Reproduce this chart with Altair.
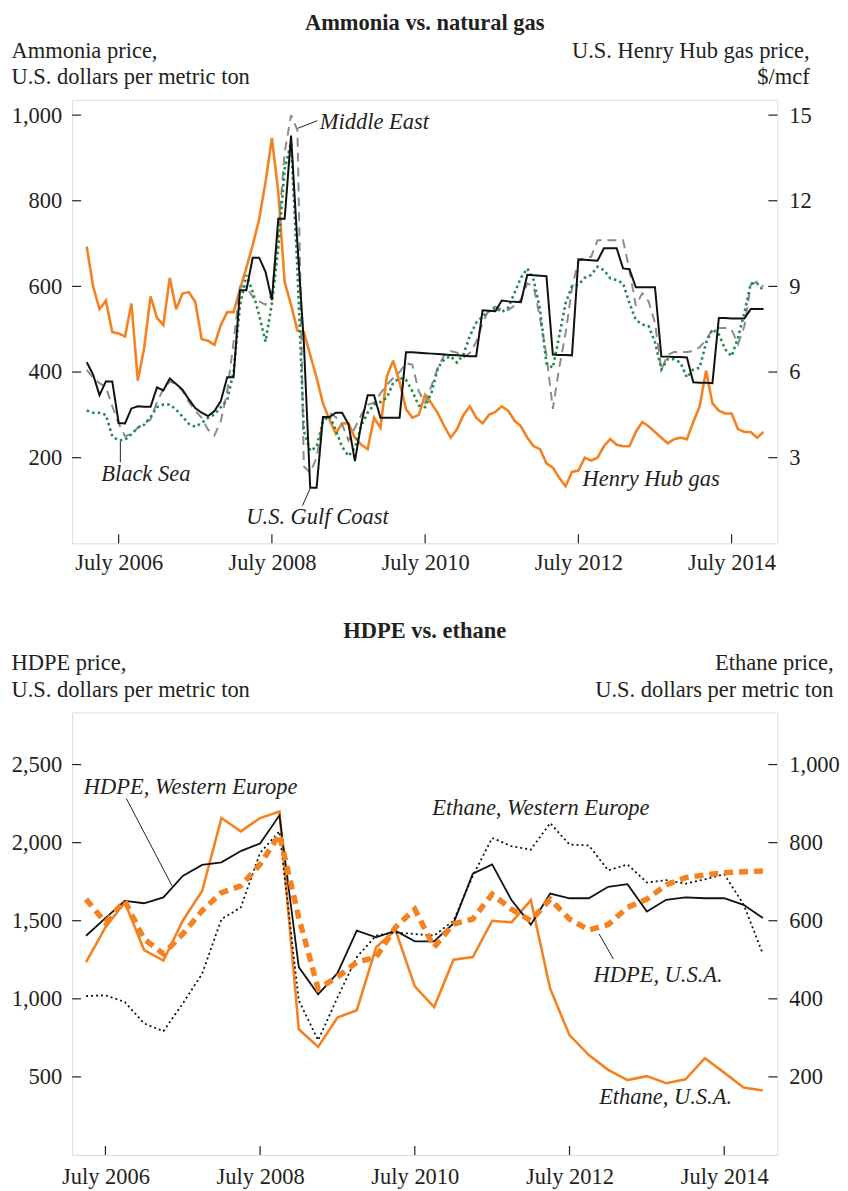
import altair as alt
import pandas as pd

FONT = "Liberation Serif"
INK = "#231f20"
ORANGE = "#f58220"
GREEN = "#1f8b4c"
GREY = "#8c8c8c"
FS = 22.6
W = 709
TICK = 9

# ---------------- top panel: monthly, Feb 2006 .. Dec 2014 ----------------
top_years = [2006] * 11 + [y for y in range(2007, 2015) for _ in range(12)]
top_months = list(range(2, 13)) + list(range(1, 13)) * 8

# U.S. Henry Hub gas price, $/mcf
henry_hub = [
    10.4, 9.0, 8.2, 8.5, 7.4, 7.35, 7.25, 8.4, 5.7, 6.85, 8.65,
    7.9, 7.65, 9.3, 8.2, 8.75, 8.8, 8.45, 7.15, 7.1, 6.95, 7.65, 8.1,
    8.1, 8.9, 9.65, 10.45, 11.35, 12.65, 14.2, 12.3, 9.15, 8.35, 7.45, 7.4,
    6.6, 5.8, 4.9, 4.35, 3.85, 4.2, 4.2, 3.7, 3.45, 3.3, 4.4, 4.05,
    5.85, 6.4, 5.65, 4.7, 4.4, 4.5, 5.2, 4.9, 4.55, 4.1, 3.7, 4.0,
    4.5, 4.8, 4.4, 4.2, 4.5, 4.6, 4.8, 4.65, 4.3, 4.1, 3.7, 3.4,
    3.3, 2.8, 2.65, 2.3, 2.0, 2.5, 2.55, 3.0, 2.9, 3.0, 3.4, 3.65,
    3.45, 3.4, 3.4, 3.9, 4.25, 4.1, 3.9, 3.7, 3.5, 3.65, 3.7, 3.65,
    4.25, 4.8, 6.05, 4.9, 4.65, 4.55, 4.55, 4.0, 3.9, 3.9, 3.7, 3.9,
]
# Ammonia, U.S. Gulf Coast, $/t
gulf_coast = [
    423, 394, 346, 378, 378, 281, 280, 315, 320, 319, 319,
    364, 357, 385, 372, 359, 336, 316, 305, 297, 309, 332, 388,
    388, 591, 591, 667, 667, 634, 568, 758, 758, 952, 700, 470,
    130, 130, 295, 295, 305, 305, 278, 192, 280, 346, 346, 293,
    293, 293, 293, 446, 446, 445, 444, 443, 442, 441, 440, 439,
    438, 437, 437, 544, 543, 542, 567, 565, 564, 563, 627, 626,
    625, 624, 441, 440, 440, 439, 663, 662, 661, 660, 689, 689,
    689, 642, 640, 598, 598, 598, 598, 436, 436, 435, 435, 434,
    376, 375, 375, 374, 526, 526, 525, 525, 525, 547, 547, 547,
]
# Ammonia, Middle East, $/t
middle_east = [
    405, 386, 374, 365, 320, 280, 250, 255, 270, 280, 289,
    330, 360, 378, 372, 356, 330, 310, 293, 265, 252, 285, 355,
    470, 600, 600, 575, 565, 557, 580, 727, 913, 1000, 965, 180,
    165, 200, 290, 305, 295, 278, 240, 270, 300, 324, 328, 350,
    370, 386, 400, 421, 417, 355, 328, 368, 410, 440, 449, 445,
    434, 445, 470, 515, 546, 553, 545, 545, 555, 569, 607, 600,
    525, 440, 314, 410, 491, 595, 660, 667, 669, 708, 708, 708,
    708, 708, 638, 555, 584, 565, 515, 405, 440, 447, 447, 447,
    449, 458, 475, 499, 503, 503, 499, 465, 507, 604, 611, 600,
]
# Ammonia, Black Sea, $/t
black_sea = [
    310, 305, 305, 300, 250, 240, 242, 255, 270, 277, 295,
    318, 324, 324, 312, 296, 279, 272, 281, 293, 301, 318, 335,
    400, 555, 626, 588, 533, 471, 560, 690, 874, 936, 640, 262,
    216, 225, 285, 297, 265, 225, 204, 223, 275, 305, 324, 330,
    340, 375, 386, 382, 355, 322, 318, 352, 410, 430, 437, 422,
    441, 484, 515, 530, 542, 550, 540, 550, 585, 620, 642, 615,
    546, 420, 410, 484, 561, 600, 604, 620, 627, 646, 638, 619,
    615, 607, 561, 522, 511, 507, 470, 406, 430, 430, 422, 387,
    406, 410, 468, 500, 488, 453, 437, 480, 538, 607, 607, 590,
]

# ---------------- bottom panel: quarterly, Apr 2006 .. Jan 2015 ----------------
q_index = list(range(36))
hdpe_we = [1404, 1517, 1627, 1612, 1649, 1787, 1857, 1874, 1946, 1995, 2175, 1203,
           1029, 1164, 1436, 1394, 1436, 1368, 1368, 1483, 1801, 1861, 1632, 1475,
           1674, 1644, 1644, 1717, 1734, 1559, 1634, 1649, 1644, 1644, 1602, 1517]
hdpe_usa = [1638, 1489, 1627, 1383, 1288, 1415, 1564, 1680, 1723, 1861, 2052, 1520,
            1065, 1139, 1235, 1266, 1458, 1574, 1330, 1479, 1511, 1670, 1574, 1500,
            1638, 1511, 1441, 1475, 1585, 1638, 1729, 1776, 1793, 1808, 1814, 1818]
ethane_we = [407, 409, 392, 337, 317, 388, 464, 604, 634, 774, 829, 396,
             294, 403, 507, 562, 570, 566, 562, 600, 715, 812, 791, 782,
             850, 795, 793, 729, 744, 698, 704, 695, 706, 719, 642, 515]
ethane_usa = [494, 583, 647, 525, 498, 600, 676, 863, 829, 863, 880, 322,
              277, 352, 371, 532, 576, 432, 379, 500, 507, 600, 596, 653,
              426, 307, 256, 218, 192, 202, 184, 194, 248, 211, 173, 165]

for s in (henry_hub, gulf_coast, middle_east, black_sea):
    assert len(s) == 107, len(s)
for s in (hdpe_we, hdpe_usa, ethane_we, ethane_usa):
    assert len(s) == 36, len(s)

tick_years = [2006, 2008, 2010, 2012, 2014]
top_left_ticks = [200, 400, 600, 800, 1000]
top_right_ticks = [3, 6, 9, 12, 15]
bot_left_ticks = [500, 1000, 1500, 2000, 2500]
bot_right_ticks = [200, 400, 600, 800, 1000]

top_df = pd.DataFrame({
    "t": [y + (m - 1) / 12 for y, m in zip(top_years, top_months)],
    "hh": henry_hub, "gulf": gulf_coast, "me": middle_east, "bs": black_sea,
})
q_months = [4 + 3 * k for k in q_index]
bot_df = pd.DataFrame({
    "t": [2006 + (m - 1) / 12 for m in q_months],
    "hwe": hdpe_we, "husa": hdpe_usa, "ewe": ethane_we, "eusa": ethane_usa,
})

# annotation labels (data coordinates)
top_labels = pd.DataFrame({
    "t": [2009.126, 2006.272, 2008.166, 2012.554],
    "v": [985, 162, 61, 150],
    "label": ["Middle East", "Black Sea", "U.S. Gulf Coast", "Henry Hub gas"],
})
top_leaders = pd.DataFrame({
    "t": [2008.835, 2006.522, 2008.996],
    "v": [969, 238, 127],
    "t2": [2009.094, 2006.522, 2008.900],
    "v2": [987, 189, 88],
})
bot_labels = pd.DataFrame({
    "t": [2006.221, 2010.725, 2012.810, 2012.883],
    "v": [2357, 2219, 1155, 372],
    "label": ["HDPE, Western Europe", "Ethane, Western Europe", "HDPE, U.S.A.", "Ethane, U.S.A."],
})
bot_leaders = pd.DataFrame({
    "t": [2006.770, 2012.883],
    "v": [2283, 1415],
    "t2": [2007.362, 2013.067],
    "v2": [1723, 1255],
})


def x_axis(pad):
    return alt.Axis(values=[y + 0.5 for y in tick_years], labelExpr="'July ' + floor(datum.value)",
                    title=None, grid=False, domain=False, ticks=False, tickSize=0,
                    labelPadding=pad, labelFont=FONT, labelFontSize=FS, labelColor=INK)


def y_axis(orient, values, title, tx, ty):
    return alt.Axis(orient=orient, values=values, format=",.0f", grid=False, domain=False,
                    ticks=False, tickSize=0,
                    labelPadding=10.5 if orient == "left" else 11.5,
                    labelFont=FONT, labelFontSize=FS, labelColor=INK,
                    title=title, titleAngle=0, titleAlign="left" if orient == "left" else "right",
                    titleBaseline="alphabetic", titleX=tx, titleY=ty, titleFont=FONT,
                    titleFontSize=FS, titleFontWeight="normal", titleColor=INK,
                    titleLineHeight=26.7)


def panel(df, xdom, H, xpad, left_specs, right_specs, ldom, rdom, laxis, raxis, lticks, rticks,
          labels, leaders, title, title_offset):
    X = alt.X("t:Q", scale=alt.Scale(domain=xdom, nice=False, zero=False), axis=x_axis(xpad))
    lscale = alt.Scale(domain=ldom, nice=False, zero=False)
    rscale = alt.Scale(domain=rdom, nice=False, zero=False)
    base = alt.Chart(df)

    def mk(field, color, width, dash, scale, axis):
        kw = dict(color=color, strokeWidth=width, strokeJoin="miter", strokeMiterLimit=3)
        if dash:
            kw.update(strokeDash=dash, strokeCap="butt")
        return base.mark_line(**kw).encode(x=X, y=alt.Y(f"{field}:Q", scale=scale, axis=axis))

    right_layers = [mk(f, c, w, d, rscale, raxis) for f, c, w, d in right_specs]
    right_layers.append(
        alt.Chart(pd.DataFrame({"v": rticks})).mark_rule(color=INK, strokeWidth=1.2).encode(
            y=alt.Y("v:Q", scale=rscale, axis=raxis), x=alt.value(W - TICK), x2=alt.value(W)))
    right = alt.layer(*right_layers)

    left_layers = [mk(f, c, w, d, lscale, laxis) for f, c, w, d in left_specs]
    left_layers.append(
        alt.Chart(pd.DataFrame({"v": lticks})).mark_rule(color=INK, strokeWidth=1.2).encode(
            y=alt.Y("v:Q", scale=lscale, axis=laxis), x=alt.value(0), x2=alt.value(TICK)))
    left_layers.append(
        alt.Chart(pd.DataFrame({"t": [y + 0.5 for y in tick_years]})).mark_rule(
            color=INK, strokeWidth=1.2).encode(x=X, y=alt.value(H - TICK), y2=alt.value(H)))
    left_layers.append(
        alt.Chart(leaders).mark_rule(color=INK, strokeWidth=1).encode(
            x=X, y=alt.Y("v:Q", scale=lscale, axis=laxis), x2="t2:Q", y2="v2:Q"))
    left_layers.append(
        alt.Chart(labels).mark_text(font=FONT, fontSize=FS, fontStyle="italic", color=INK,
                                    align="left", baseline="middle").encode(
            x=X, y=alt.Y("v:Q", scale=lscale, axis=laxis), text="label:N"))
    left = alt.layer(*left_layers)
    return alt.layer(right, left).resolve_scale(y="independent").properties(
        width=W, height=H,
        title=alt.TitleParams(title, font=FONT, fontSize=FS, fontWeight="bold", color=INK,
                              anchor="middle", frame="group", offset=title_offset))


top = panel(
    top_df, [2005.893, 2015.097], 446, 8,
    left_specs=[("me", GREY, 2.0, [9, 6]), ("bs", GREEN, 2.6, [2.5, 3.2]),
                ("gulf", "#111111", 2.0, None)],
    right_specs=[("hh", ORANGE, 2.6, None)],
    ldom=[0, 1036], rdom=[0, 15.54],
    laxis=y_axis("left", top_left_ticks, ["Ammonia price,", "U.S. dollars per metric ton"],
                 -61.5, -42.7),
    raxis=y_axis("right", top_right_ticks, ["U.S. Henry Hub gas price,", "$/mcf"], 32, -42.7),
    lticks=top_left_ticks, rticks=top_right_ticks,
    labels=top_labels, leaders=top_leaders, title="Ammonia vs. natural gas",
    title_offset=5)

bottom = panel(
    bot_df, [2006.070, 2015.187], 445, 11,
    left_specs=[("hwe", "#111111", 1.8, None), ("husa", ORANGE, 5.5, [9, 6])],
    right_specs=[("eusa", ORANGE, 2.6, None), ("ewe", "#111111", 1.8, [2, 3])],
    ldom=[0, 2834], rdom=[0, 1133.6],
    laxis=y_axis("left", bot_left_ticks, ["HDPE price,", "U.S. dollars per metric ton"],
                 -61.5, -42.7),
    raxis=y_axis("right", bot_right_ticks, ["Ethane price,", "U.S. dollars per metric ton"],
                 56, -42.7),
    lticks=bot_left_ticks, rticks=bot_right_ticks,
    labels=bot_labels, leaders=bot_leaders, title="HDPE vs. ethane", title_offset=9)

chart = alt.vconcat(top, bottom, spacing=45).properties(
    padding={"left": 2.5, "top": 0, "right": 0, "bottom": 0}
).configure_view(stroke=INK, strokeWidth=1.3).configure(font=FONT)

chart.save("out.html", embed_options={"renderer": "svg", "actions": False})
